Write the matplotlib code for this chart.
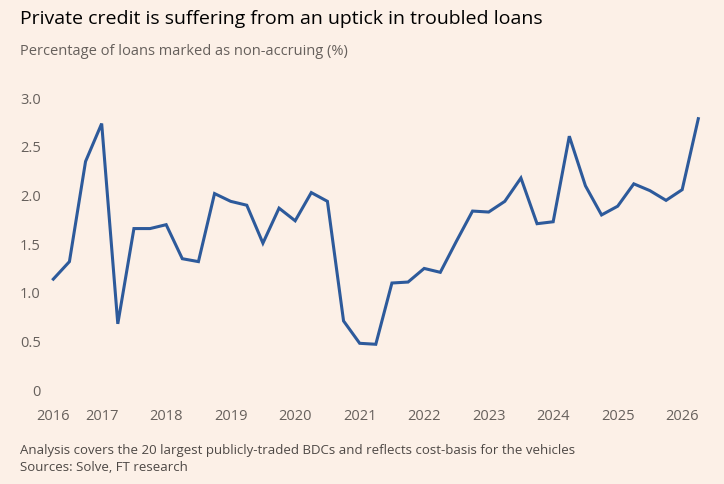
import matplotlib
matplotlib.use("Agg")
import matplotlib.pyplot as plt

# Quarterly data, 2016 Q2 .. 2026 Q2 (positions in fractional years)
quarters = [2016.25 + 0.25 * i for i in range(41)]
values = [1.13, 1.31, 2.34, 2.73, 0.67, 1.65, 1.65, 1.69, 1.34, 1.31,
          2.01, 1.93, 1.89, 1.50, 1.86, 1.73, 2.02, 1.93, 0.70, 0.47,
          0.46, 1.09, 1.10, 1.24, 1.20, 1.52, 1.83, 1.82, 1.93, 2.17,
          1.70, 1.72, 2.60, 2.09, 1.79, 1.88, 2.11, 2.04, 1.94, 2.05,
          2.78]
xtick_pos = [2016.25, 2017, 2018, 2019, 2020, 2021, 2022, 2023, 2024, 2025, 2026]
xtick_labels = ["2016", "2017", "2018", "2019", "2020", "2021", "2022",
                "2023", "2024", "2025", "2026"]
ytick_pos = [0, 0.5, 1.0, 1.5, 2.0, 2.5, 3.0]
ytick_labels = ["0", "0.5", "1.0", "1.5", "2.0", "2.5", "3.0"]

title = "Private credit is suffering from an uptick in troubled loans"
subtitle = "Percentage of loans marked as non-accruing (%)"
note = "Analysis covers the 20 largest publicly-traded BDCs and reflects cost-basis for the vehicles"
source = "Sources: Solve, FT research"

BG = "#FCF0E7"
LINE = "#2D5A9B"
GREY = "#66605C"

plt.rcParams["font.family"] = ["Open Sans", "DejaVu Sans"]

W, H = 724, 485
fig = plt.figure(figsize=(W / 100, H / 100), dpi=100, facecolor=BG)
ax = fig.add_axes([53.3 / W, 1 - 390 / H, (698.3 - 53.3) / W, (390 - 98.3) / H])
ax.set_facecolor(BG)

ax.plot(quarters, values, color=LINE, lw=2.2, solid_joinstyle="miter",
        clip_on=False)

ax.set_xlim(2016.25, 2026.25)
ax.set_ylim(0, 3.0)
ax.set_xticks(xtick_pos)
ax.set_xticklabels(xtick_labels)
ax.set_yticks(ytick_pos)
ax.set_yticklabels(ytick_labels)
ax.tick_params(axis="both", length=0, labelsize=10.5, labelcolor=GREY)
ax.tick_params(axis="y", pad=9)
ax.tick_params(axis="x", pad=14)
for s in ax.spines.values():
    s.set_visible(False)

fig.text(20 / W, 1 - 19 / H, title, fontsize=14, color="#000000",
         va="center", ha="left")
fig.text(20 / W, 1 - 52 / H, subtitle, fontsize=10.5, color=GREY,
         va="center", ha="left")
fig.text(20 / W, 1 - 451 / H, note, fontsize=9.5, color="#4D4845",
         va="center", ha="left")
fig.text(20 / W, 1 - 468 / H, source, fontsize=9.5, color="#4D4845",
         va="center", ha="left")

fig.savefig("out.png", dpi=100, facecolor=BG)
